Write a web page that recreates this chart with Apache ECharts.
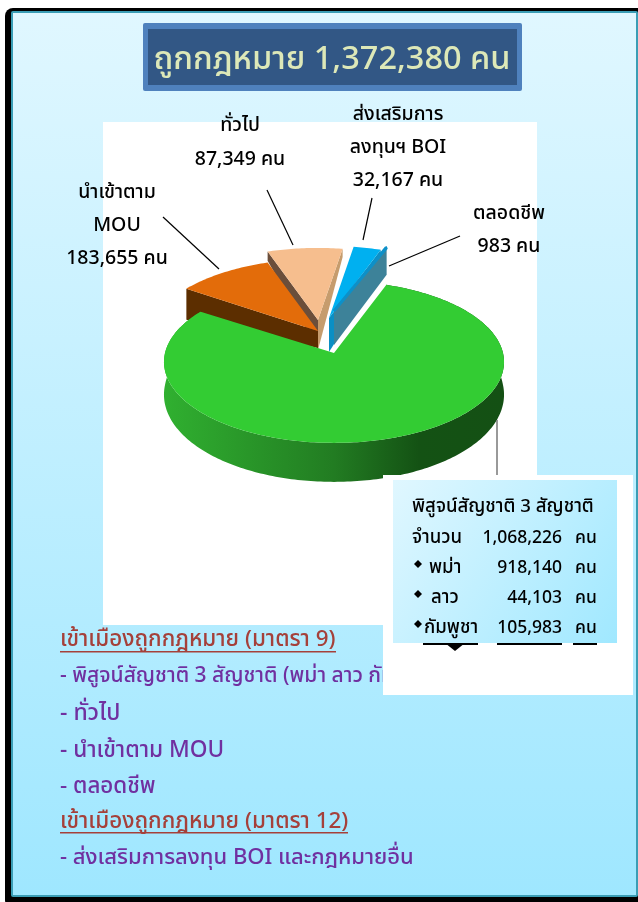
<!DOCTYPE html>
<html>
<head>
<meta charset="utf-8">
<style>
html, body { margin: 0; padding: 0; background: #fff; }
#chart { width: 638px; height: 902px; }
</style>
<script src="https://cdn.jsdelivr.net/npm/echarts@6/dist/echarts.min.js"></script>
</head>
<body>
<div id="chart"></div>
<script>
// data
var sliceNames = [ 'พิสูจน์สัญชาติ 3 สัญชาติ', 'นำเข้าตาม MOU', 'ทั่วไป', 'ส่งเสริมการลงทุนฯ BOI', 'ตลอดชีพ' ];
var sliceValues = [ 1068226, 183655, 87349, 32167, 983 ];
var nationNames = [ 'พม่า', 'ลาว', 'กัมพูชา' ];
var nationValues = [ 918140, 44103, 105983 ];
var legendLines = [ 'เข้าเมืองถูกกฎหมาย (มาตรา 9)', '- พิสูจน์สัญชาติ 3 สัญชาติ (พม่า ลาว กัมพูชา)', '- ทั่วไป',
		'- นำเข้าตาม MOU', '- ตลอดชีพ', 'เข้าเมืองถูกกฎหมาย (มาตรา 12)', '- ส่งเสริมการลงทุน BOI และกฎหมายอื่น' ];

var FONT = '"Noto Sans Thai", "Noto Sans", "DejaVu Sans", sans-serif';
var unit = ' คน';

function fmt(v) {
	return v.toLocaleString('en-US');
}

// tilted pie look, one entry per slice
var startAngle = 20, rx = 169, ry = 80, persp = 0.11;
var sliceLook = [ {
	apex : [ 334, 353 ], nudge : [ 0, 3 ], d0 : 32, dBack : 10, dFront : 39, top : '#33CC33',
	outer : new echarts.graphic.LinearGradient(0, 0, 1, 0, [ { offset : 0, color : '#30B030' },
			{ offset : 0.5, color : '#227C22' }, { offset : 0.75, color : '#145214' }, { offset : 1, color : '#145014' } ])
}, {
	apex : [ 318, 331 ], nudge : [ 4, -7.6 ], d0 : 17, dBack : 42, dFront : 22, top : '#E36C0A', wallA : '#5C2E00'
}, {
	apex : [ 318, 320 ], nudge : [ -7.6, -2 ], d0 : 30, dBack : 8, dFront : 30, top : '#F6BE8E', wallA : '#6B4E3A', wallB : '#C69C6D'
}, {
	apex : [ 329, 318 ], nudge : [ -2, 0 ], d0 : 34, dBack : 20, dFront : 34, top : '#00B0F0', wallB : '#0A8FC4'
}, {
	apex : [ 334, 311 ], nudge : [ 1.5, 1.5 ], r : 0.93, d0 : 34, dBack : 26, dFront : 34, top : '#0D90C8', wallB : '#3D8299'
} ];
var drawOrder = [ 2, 1, 3, 4, 0 ];

function sliceRange(i) {
	var total = sliceValues.reduce(function(a, b) { return a + b; }, 0);
	var a = startAngle;
	for (var j = 0; j < i; j++) {
		a += sliceValues[j] / total * 360;
	}
	return [ a, a + sliceValues[i] / total * 360 ];
}

function disc(look, deg) {
	var t = deg * Math.PI / 180;
	var r = look.r || 1;
	var X = r * Math.sin(t), Y = -r * Math.cos(t);
	var s = 1 / (1 - persp * Y);
	return { x : look.apex[0] + rx * X * s, y : look.apex[1] + ry * Y * s, Y : Y };
}

function drop(look, p) {
	var d = p.Y < 0 ? look.d0 + (look.dBack - look.d0) * -p.Y : look.d0 + (look.dFront - look.d0) * p.Y;
	return [ p.x, p.y + d ];
}

function wall(look, p, color) {
	return {
		type : 'polygon',
		shape : { points : [ look.apex, [ p.x, p.y ], drop(look, p), [ look.apex[0], look.apex[1] + look.d0 ] ] },
		style : { fill : color }
	};
}

function renderSlice(params, api) {
	var i = api.value(0);
	var look = sliceLook[i];
	var range = sliceRange(i);
	var a0 = range[0] + look.nudge[0], a1 = range[1] + look.nudge[1];
	var arc = [];
	for (var a = a0; a < a1; a += 1) {
		arc.push(disc(look, a));
	}
	arc.push(disc(look, a1));
	var children = [];
	if (look.wallA) {
		children.push(wall(look, arc[0], look.wallA));
	}
	if (look.wallB) {
		children.push(wall(look, arc[arc.length - 1], look.wallB));
	}
	if (look.outer) {
		var topEdge = arc.map(function(p) { return [ p.x, p.y ]; });
		var lowEdge = arc.map(function(p) { return drop(look, p); }).reverse();
		children.push({ type : 'polygon', shape : { points : topEdge.concat(lowEdge) }, style : { fill : look.outer } });
	}
	children.push({
		type : 'polygon',
		shape : { points : [ look.apex ].concat(arc.map(function(p) { return [ p.x, p.y ]; })) },
		style : { fill : look.top, stroke : i === 4 ? look.top : null, lineWidth : 3, lineJoin : 'bevel' }
	});
	return { type : 'group', children : children };
}

function text(str, x, y, size, color, align, z) {
	return {
		type : 'text', z : z || 1,
		style : { text : str, x : x, y : y + 3, font : '500 ' + size + 'px ' + FONT, fill : color, textAlign : align || 'left', textVerticalAlign : 'middle' }
	};
}

function rect(x, y, w, h, fill, z, r) {
	return { type : 'rect', z : z, shape : { x : x, y : y, width : w, height : h, r : r || 0 }, style : { fill : fill } };
}

function line(x1, y1, x2, y2, color, width) {
	return { type : 'line', z : 3, shape : { x1 : x1, y1 : y1, x2 : x2, y2 : y2 }, style : { stroke : color || '#000', lineWidth : width || 1.2 } };
}

var total = sliceValues.reduce(function(a, b) { return a + b; }, 0);
var els = [];

// page frame
els.push(rect(5, 8, 640, 900, '#000', 0, 8));
els.push(rect(11, 11, 627, 886, '#3A9DB5', 0, 2));
els.push(rect(13, 13, 623, 882, new echarts.graphic.LinearGradient(0, 0, 0, 1, [ { offset : 0, color : '#E0F7FF' }, { offset : 1, color : '#9FE7FF' } ]), 0));
els.push(rect(103, 122, 434, 503, '#fff', 0));

// title
els.push(rect(143, 23, 379, 68, '#4F81BD', 1, 2));
els.push(rect(148, 29, 369, 56, '#325785', 1));
els.push(text('ถูกกฎหมาย ' + fmt(total) + unit, 332, 59, 32.5, '#DDE8B8', 'center'));

// slice labels and leaders
var labelSize = 19.5;
els.push(text('นำเข้าตาม', 117, 191, labelSize, '#000', 'center', 3));
els.push(text('MOU', 117, 224, labelSize, '#000', 'center', 3));
els.push(text(fmt(sliceValues[1]) + unit, 117, 257, labelSize, '#000', 'center', 3));
els.push(text(sliceNames[2], 240, 124, labelSize, '#000', 'center', 3));
els.push(text(fmt(sliceValues[2]) + unit, 240, 158, labelSize, '#000', 'center', 3));
els.push(text('ส่งเสริมการ', 398, 113, labelSize, '#000', 'center', 3));
els.push(text('ลงทุนฯ BOI', 398, 146, labelSize, '#000', 'center', 3));
els.push(text(fmt(sliceValues[3]) + unit, 398, 179, labelSize, '#000', 'center', 3));
els.push(text(sliceNames[4], 509, 212, labelSize, '#000', 'center', 3));
els.push(text(fmt(sliceValues[4]) + unit, 509, 245, labelSize, '#000', 'center', 3));
els.push(line(163, 217, 219, 269));
els.push(line(267, 190, 293, 245));
els.push(line(372, 198, 363, 240));
els.push(line(460, 236, 389, 266));
els.push(line(497, 420, 497, 478, '#777', 1.5));

// legend text below the pie
var legendY = [ 638, 675, 712, 749, 785, 820, 857 ];
var legendSize = [ 22.4, 21, 23, 22.6, 22.4, 22.4, 22 ];
legendLines.forEach(function(s, i) {
	var head = i === 0 || i === 5;
	els.push(text(s, 60, legendY[i], legendSize[i], head ? '#A5403A' : '#7030A0', 'left', 3));
});
els.push(rect(60, 651, 276, 1.5, '#A5403A', 3));
els.push(rect(60, 832, 288, 1.5, '#A5403A', 3));

// callout box
els.push(rect(383, 475, 250, 220, '#fff', 5));
els.push(rect(393, 480, 224, 163, new echarts.graphic.LinearGradient(0, 0, 1, 1, [ { offset : 0, color : '#E0F7FF' }, { offset : 1, color : '#A0E8FF' } ]), 6));
// leftover marks of the hidden text under the box
els.push(rect(423, 643, 55, 2, '#000', 6));
els.push(rect(497, 643, 65, 2, '#000', 6));
els.push(rect(573, 643, 24, 2, '#000', 6));
els.push({ type : 'polygon', z : 6, shape : { points : [ [ 445, 643 ], [ 465, 643 ], [ 455, 651 ] ] }, style : { fill : '#000' } });

els.push(text(sliceNames[0], 412, 505, 18.6, '#000', 'left', 7));
els.push(text('จำนวน', 412, 536, 18.6, '#000', 'left', 7));
els.push(text(fmt(sliceValues[0]), 562, 536, 17.5, '#000', 'right', 7));
els.push(text('คน', 575, 536, 17.5, '#000', 'left', 7));
var nationRowY = [ 566, 596, 626 ], nationX = [ 429, 431, 424 ];
nationNames.forEach(function(s, i) {
	els.push({
		type : 'polygon', z : 7,
		shape : { points : [ [ 418, nationRowY[i] - 6 ], [ 422, nationRowY[i] - 2 ], [ 418, nationRowY[i] + 2 ], [ 414, nationRowY[i] - 2 ] ] },
		style : { fill : '#000' }
	});
	els.push(text(s, nationX[i], nationRowY[i], 18.6, '#000', 'left', 7));
	els.push(text(fmt(nationValues[i]), 562, nationRowY[i], 17.5, '#000', 'right', 7));
	els.push(text('คน', 575, nationRowY[i], 17.5, '#000', 'left', 7));
});

var pieOption = {
	animation : false,
	tooltip : { show : false },
	graphic : { elements : els },
	series : [ {
		type : 'custom',
		coordinateSystem : 'none',
		z : 2,
		silent : true,
		renderItem : renderSlice,
		encode : { value : 0 },
		data : drawOrder.map(function(i) { return [ i, sliceValues[i] ]; })
	} ]
};

var piechart = echarts.init(document.getElementById('chart'));
piechart.setOption(pieOption);
</script>
</body>
</html>
